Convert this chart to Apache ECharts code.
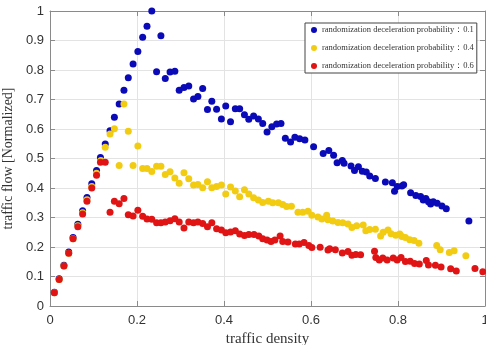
<!DOCTYPE html>
<html>
<head>
<meta charset="utf-8">
<script src="https://cdn.jsdelivr.net/npm/echarts@6/dist/echarts.min.js"></script>
<style>
  html, body { margin: 0; padding: 0; background: #fff; overflow: hidden; }
  #chart { width: 486px; height: 345px; }
</style>
</head>
<body>
<div id="chart"></div>
<script>
// Normalized flow vs. density for three randomization deceleration probabilities
const seriesNames = [
  'randomization deceleration probability：0.1',
  'randomization deceleration probability：0.4',
  'randomization deceleration probability：0.6'
];

// [density, normalized flow]
const flowP01 = [
  [0.010,0.047],[0.021,0.092],[0.032,0.138],[0.043,0.183],[0.053,0.232],[0.064,0.277],
  [0.075,0.323],[0.085,0.368],[0.096,0.414],[0.107,0.459],[0.116,0.503],[0.127,0.549],
  [0.138,0.594],[0.148,0.640],[0.159,0.685],[0.170,0.731],[0.180,0.774],[0.191,0.820],
  [0.202,0.863],[0.213,0.911],[0.223,0.948],[0.234,1.000],[0.245,0.794],[0.255,0.916],
  [0.265,0.771],[0.276,0.793],[0.287,0.796],[0.297,0.731],[0.308,0.741],[0.319,0.746],
  [0.330,0.702],[0.340,0.710],[0.351,0.737],[0.362,0.666],[0.372,0.694],[0.383,0.667],
  [0.394,0.634],[0.404,0.678],[0.415,0.625],[0.426,0.669],[0.436,0.669],[0.447,0.648],
  [0.457,0.633],[0.468,0.644],[0.479,0.634],[0.489,0.619],[0.499,0.590],[0.510,0.608],
  [0.521,0.617],[0.531,0.619],[0.541,0.569],[0.553,0.556],[0.563,0.572],[0.574,0.567],
  [0.586,0.563],[0.606,0.540],[0.628,0.517],[0.641,0.527],[0.652,0.511],[0.660,0.486],
  [0.672,0.493],[0.676,0.484],[0.692,0.475],[0.700,0.459],[0.709,0.472],[0.718,0.457],
  [0.727,0.454],[0.735,0.441],[0.748,0.432],[0.771,0.420],[0.787,0.418],[0.792,0.389],
  [0.798,0.405],[0.809,0.407],[0.813,0.411],[0.829,0.384],[0.841,0.375],[0.852,0.371],
  [0.858,0.359],[0.864,0.364],[0.870,0.353],[0.875,0.346],[0.881,0.353],[0.890,0.348],
  [0.901,0.339],[0.911,0.330],[0.963,0.288]
];

const flowP04 = [
  [0.010,0.045],[0.021,0.090],[0.032,0.136],[0.043,0.179],[0.053,0.228],[0.064,0.272],
  [0.075,0.316],[0.085,0.360],[0.096,0.405],[0.107,0.450],[0.117,0.493],[0.127,0.538],
  [0.138,0.583],[0.148,0.601],[0.159,0.476],[0.170,0.685],[0.180,0.592],[0.191,0.476],
  [0.202,0.542],[0.213,0.466],[0.223,0.466],[0.234,0.456],[0.245,0.474],[0.255,0.474],
  [0.265,0.446],[0.276,0.455],[0.287,0.434],[0.297,0.416],[0.308,0.452],[0.319,0.431],
  [0.330,0.410],[0.340,0.412],[0.351,0.401],[0.362,0.421],[0.372,0.401],[0.383,0.405],
  [0.394,0.410],[0.404,0.380],[0.415,0.403],[0.426,0.390],[0.436,0.370],[0.447,0.394],
  [0.457,0.380],[0.468,0.367],[0.479,0.359],[0.489,0.351],[0.502,0.355],[0.512,0.350],
  [0.525,0.350],[0.535,0.344],[0.544,0.337],[0.555,0.338],[0.570,0.318],[0.581,0.318],
  [0.593,0.321],[0.602,0.308],[0.616,0.302],[0.625,0.295],[0.636,0.308],[0.639,0.292],
  [0.650,0.288],[0.662,0.283],[0.673,0.282],[0.685,0.278],[0.694,0.266],[0.705,0.272],
  [0.720,0.275],[0.726,0.255],[0.735,0.259],[0.748,0.260],[0.760,0.237],[0.766,0.250],
  [0.777,0.258],[0.784,0.245],[0.795,0.240],[0.804,0.244],[0.809,0.236],[0.817,0.232],
  [0.827,0.225],[0.837,0.222],[0.848,0.213],[0.889,0.205],[0.897,0.191],[0.918,0.181],
  [0.929,0.187],[0.956,0.170]
];

const flowP06 = [
  [0.010,0.045],[0.021,0.090],[0.032,0.136],[0.043,0.179],[0.053,0.228],[0.064,0.269],
  [0.075,0.312],[0.085,0.355],[0.096,0.400],[0.107,0.443],[0.116,0.487],[0.127,0.487],
  [0.138,0.318],[0.148,0.355],[0.159,0.347],[0.170,0.364],[0.180,0.309],[0.191,0.305],
  [0.202,0.325],[0.213,0.304],[0.223,0.295],[0.234,0.294],[0.245,0.282],[0.255,0.282],
  [0.265,0.285],[0.276,0.289],[0.287,0.296],[0.297,0.285],[0.308,0.264],[0.319,0.285],
  [0.330,0.282],[0.340,0.285],[0.351,0.280],[0.362,0.269],[0.372,0.282],[0.383,0.262],
  [0.394,0.258],[0.404,0.248],[0.415,0.251],[0.426,0.255],[0.436,0.244],[0.447,0.239],
  [0.457,0.242],[0.469,0.242],[0.480,0.237],[0.489,0.228],[0.499,0.224],[0.508,0.219],
  [0.517,0.224],[0.529,0.237],[0.535,0.219],[0.547,0.217],[0.564,0.210],[0.573,0.210],
  [0.584,0.215],[0.595,0.205],[0.602,0.198],[0.621,0.199],[0.639,0.190],[0.643,0.194],
  [0.656,0.191],[0.672,0.180],[0.685,0.185],[0.694,0.172],[0.703,0.175],[0.714,0.174],
  [0.746,0.186],[0.749,0.164],[0.757,0.156],[0.765,0.163],[0.775,0.156],[0.789,0.163],
  [0.798,0.156],[0.807,0.164],[0.817,0.151],[0.828,0.152],[0.838,0.144],[0.849,0.142],
  [0.865,0.154],[0.870,0.139],[0.886,0.138],[0.899,0.132],[0.921,0.126],[0.934,0.119],
  [0.977,0.127],[0.995,0.116]
];

const seriesColors = ['#0a0ab8', '#f2cc12', '#e01414'];

const chart = echarts.init(document.getElementById('chart'), null, { renderer: 'canvas' });

const serif = 'Liberation Serif, Times New Roman, serif';
const tickFont = { color: '#333', fontSize: 13, fontFamily: 'Liberation Sans, Arial, sans-serif' };
const gridLine = { show: true, lineStyle: { color: '#e3e3e3', width: 1 } };
const boxLine = { show: true, onZero: false, lineStyle: { color: '#8a8a8a', width: 1 } };
const innerTick = { show: true, inside: true, length: 5, lineStyle: { color: '#8a8a8a' } };

chart.setOption({
  animation: false,
  backgroundColor: '#ffffff',
  grid: { left: 50, right: 1, top: 11, bottom: 39, containLabel: false, outerBoundsMode: 'none' },
  legend: {
    data: seriesNames,
    orient: 'vertical',
    left: 305,
    top: 23,
    itemWidth: 6,
    itemHeight: 6,
    itemGap: 6,
    icon: 'circle',
    padding: [1, 3, 1, 6],
    borderColor: '#444',
    borderWidth: 1,
    backgroundColor: '#fff',
    textStyle: { fontFamily: serif, fontSize: 8.5, lineHeight: 12, color: '#333' }
  },
  xAxis: [
    {
      type: 'value', min: 0, max: 1, interval: 0.2,
      name: 'traffic density', nameLocation: 'middle', nameGap: 22,
      nameTextStyle: { fontFamily: serif, fontSize: 15, color: '#333' },
      axisLine: boxLine, axisTick: innerTick, splitLine: gridLine,
      axisLabel: Object.assign({ margin: 8 }, tickFont)
    },
    {
      type: 'value', position: 'top', min: 0, max: 1, interval: 0.2,
      axisLine: boxLine, axisTick: innerTick, splitLine: { show: false }, axisLabel: { show: false }
    }
  ],
  yAxis: [
    {
      type: 'value', min: 0, max: 1, interval: 0.1,
      name: 'traffic flow [Normalized]', nameLocation: 'middle', nameGap: 28,
      nameTextStyle: { fontFamily: serif, fontSize: 14, color: '#333' },
      axisLine: boxLine, axisTick: innerTick, splitLine: gridLine,
      axisLabel: Object.assign({ margin: 6 }, tickFont)
    },
    {
      type: 'value', position: 'right', min: 0, max: 1, interval: 0.1,
      axisLine: boxLine, axisTick: innerTick, splitLine: { show: false }, axisLabel: { show: false }
    }
  ],
  series: [flowP01, flowP04, flowP06].map((pts, i) => ({
    name: seriesNames[i],
    type: 'scatter',
    xAxisIndex: 0,
    yAxisIndex: 0,
    symbol: 'circle',
    symbolSize: 7,
    itemStyle: { color: seriesColors[i], opacity: 1 },
    data: pts
  }))
});
</script>
</body>
</html>
